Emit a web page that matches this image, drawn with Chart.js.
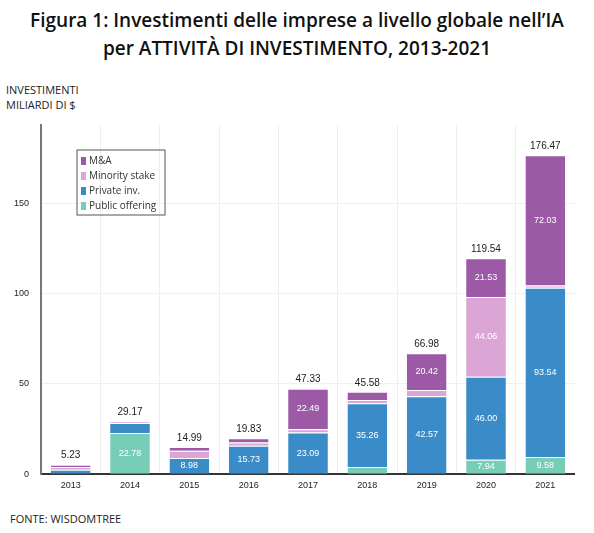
<!DOCTYPE html>
<html><head><meta charset="utf-8">
<script src="https://cdn.jsdelivr.net/npm/chart.js@4"></script>
<style>
body{margin:0;background:#fff;font-family:"Open Sans",sans-serif;}
h1{margin:0;position:absolute;top:6px;left:0;width:594px;text-align:center;font-size:19px;font-weight:600;line-height:28px;color:#111;}
.yt{position:absolute;left:6px;top:82px;font-size:11px;line-height:15px;color:#222;}
.src{position:absolute;left:10px;top:511px;font-size:11px;color:#222;}
#wrap{position:absolute;left:0;top:108px;width:575px;height:389px;}
</style></head><body>
<h1>Figura 1: Investimenti delle imprese a livello globale nell’IA<br>per ATTIVITÀ DI INVESTIMENTO, 2013-2021</h1>
<div class="yt">INVESTIMENTI<br>MILIARDI DI $</div>
<div id="wrap"><canvas id="c"></canvas></div>
<div class="src">FONTE: WISDOMTREE</div>
<script>
// Dati
const years = ['2013','2014','2015','2016','2017','2018','2019','2020','2021'];
const publicOffering = [0, 22.78, 0, 0, 0, 4, 0.5, 7.94, 9.58];
const privateInv = [2.5, 5.5, 8.98, 15.73, 23.09, 35.26, 42.57, 46.00, 93.54];
const minorityStake = [1.5, 0.89, 4, 1.8, 1.75, 1.8, 3.49, 44.06, 1.32];
const mna = [1.23, 0, 2.01, 2.3, 22.49, 4.52, 20.42, 21.53, 72.03];
const totals = ['5.23','29.17','14.99','19.83','47.33','45.58','66.98','119.54','176.47'];
const yTicks = [0, 50, 100, 150];

// Etichette sui segmenti
const shownLabels = {
  'Public offering': [null, '22.78', null, null, null, null, null, '7.94', '9.58'],
  'Private inv.': [null, null, '8.98', '15.73', '23.09', '35.26', '42.57', '46.00', '93.54'],
  'Minority stake': [null, null, null, null, null, null, null, '44.06', null],
  'M&A': [null, null, null, null, '22.49', null, '20.42', '21.53', '72.03']
};

const labelsPlugin = {
  id: 'labels',
  afterDatasetsDraw(chart) {
    const ctx = chart.ctx;
    ctx.save();
    ctx.textAlign = 'center';
    ctx.textBaseline = 'middle';
    ctx.font = '9px "Liberation Sans", sans-serif';
    chart.data.datasets.forEach((ds, i) => {
      const meta = chart.getDatasetMeta(i);
      meta.data.forEach((bar, j) => {
        const t = shownLabels[ds.label][j];
        if (!t) return;
        ctx.fillStyle = '#fff';
        ctx.fillText(t, bar.x, (bar.y + bar.base) / 2);
      });
    });
    // totali
    const last = chart.getDatasetMeta(3);
    ctx.fillStyle = '#222';
    ctx.font = '10px "Liberation Sans", sans-serif';
    last.data.forEach((bar, j) => {
      const y = chart.scales.y.getPixelForValue(publicOffering[j] + privateInv[j] + minorityStake[j] + mna[j]);
      ctx.fillText(totals[j], bar.x, y - 9);
    });
    // legenda
    const lx = 77, ly = 42;
    ctx.strokeStyle = '#555';
    ctx.lineWidth = 1;
    ctx.strokeRect(lx, ly, 88, 65);
    ctx.textAlign = 'left';
    ctx.font = '10px "Open Sans", sans-serif';
    [3, 2, 1, 0].forEach((k, n) => {
      const ds = chart.data.datasets[k];
      ctx.fillStyle = ds.backgroundColor;
      ctx.fillRect(lx + 4, ly + 7 + n * 15, 5, 8);
      ctx.fillStyle = '#333';
      ctx.fillText(ds.label, lx + 12, ly + 11 + n * 15);
    });
    ctx.restore();
  }
};

new Chart(document.getElementById('c'), {
  type: 'bar',
  data: {
    labels: years,
    datasets: [
      { label: 'Public offering', data: publicOffering, backgroundColor: '#77cdb6' },
      { label: 'Private inv.', data: privateInv, backgroundColor: '#3a8cc8' },
      { label: 'Minority stake', data: minorityStake, backgroundColor: '#dba6d6' },
      { label: 'M&A', data: mna, backgroundColor: '#9b59a6' }
    ]
  },
  options: {
    responsive: true,
    maintainAspectRatio: false,
    animation: false,
    layout: { padding: { left: 2, right: 0, top: 10 } },
    plugins: { legend: { display: false }, tooltip: { enabled: false } },
    datasets: { bar: { categoryPercentage: 0.93, barPercentage: 0.72, borderColor: '#fff', borderWidth: { top: 1 } } },
    scales: {
      x: {
        stacked: true,
        grid: { color: '#eee', offset: true, drawTicks: false },
        border: { color: '#333', width: 2 },
        ticks: { color: '#222', font: { size: 9, family: 'Liberation Sans' }, padding: 6 }
      },
      y: {
        stacked: true,
        min: 0, max: 193,
        afterBuildTicks(s) { s.ticks = yTicks.map(v => ({ value: v })); },
        grid: { color: '#f0f0f0', drawTicks: false },
        border: { color: '#777', width: 2 },
        ticks: { color: '#222', font: { size: 9, family: 'Liberation Sans' }, padding: 12 }
      }
    }
  },
  plugins: [labelsPlugin]
});
</script>
</body></html>
